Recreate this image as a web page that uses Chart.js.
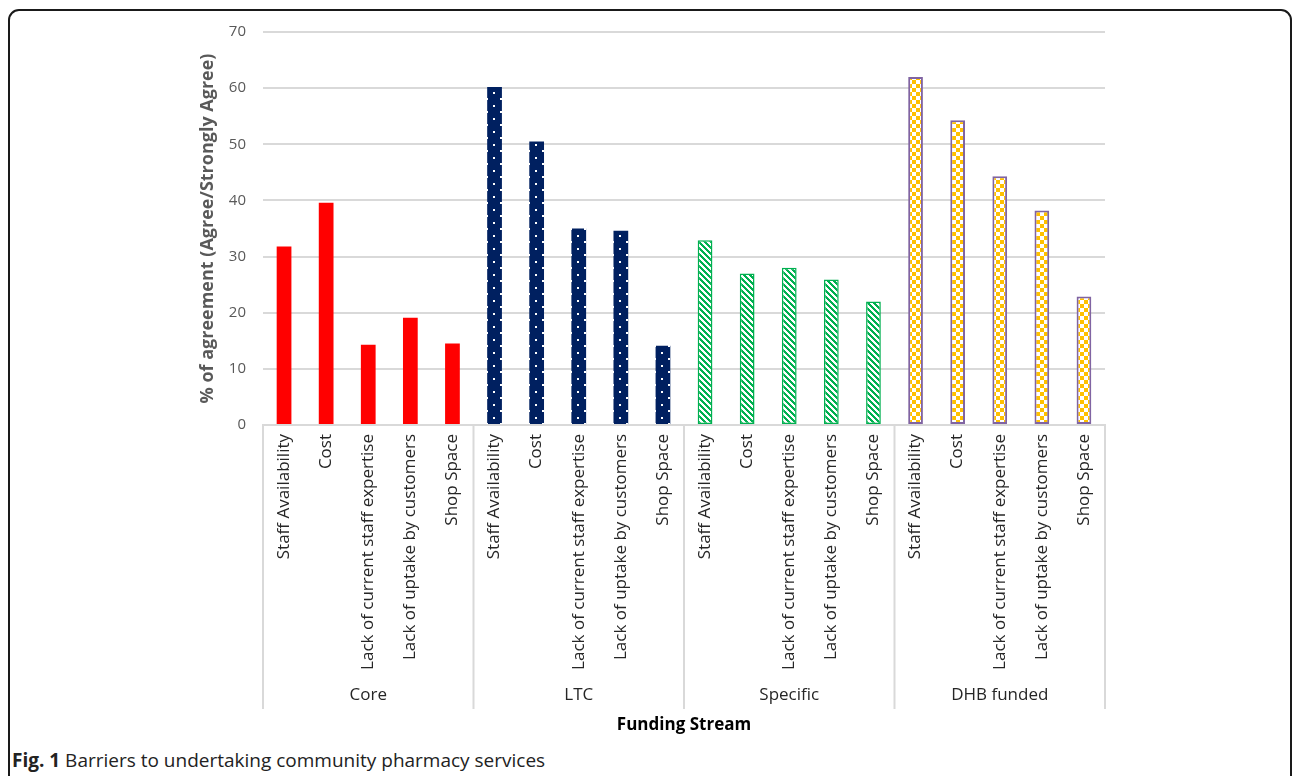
<!DOCTYPE html>
<html>
<head>
<meta charset="utf-8">
<script src="https://cdn.jsdelivr.net/npm/chart.js@4.4.1/dist/chart.umd.min.js"></script>
<style>
  html, body { margin: 0; padding: 0; background: #fff; }
  body { width: 1295px; height: 776px; position: relative; overflow: hidden; }
  #frame {
    position: absolute; left: 8px; top: 9px; width: 1280px; height: 820px;
    border: 2px solid #1a1a1a; border-radius: 11px;
  }
  #chart { position: absolute; left: 0; top: 0; }
  #caption {
    position: absolute; left: 12px; top: 747px;
    font-family: "Open Sans", sans-serif; font-size: 19px; color: #222;
    white-space: nowrap; line-height: 26px;
  }
  #caption b { font-weight: 700; }
</style>
</head>
<body>
<div id="frame"></div>
<canvas id="chart" width="1295" height="740"></canvas>
<div id="caption"><b>Fig. 1</b> Barriers to undertaking community pharmacy services</div>
<script>
// categories and groups
const categories = ["Staff Availability", "Cost", "Lack of current staff expertise", "Lack of uptake by customers", "Shop Space"];
const groups = ["Core", "LTC", "Specific", "DHB funded"];

// % agree / strongly agree, per funding stream
const coreValues = [31.8, 39.6, 14.3, 19.1, 14.5];
const ltcValues = [60.2, 50.5, 35.0, 34.6, 14.1];
const specificValues = [32.9, 27.0, 28.0, 25.9, 22.0];
const dhbValues = [62.0, 54.3, 44.3, 38.2, 22.9];

const yTicks = [0, 10, 20, 30, 40, 50, 60, 70];

function makePattern(w, h, draw) {
    let c = document.createElement("canvas");
    c.width = w;
    c.height = h;
    let g = c.getContext("2d");
    draw(g);
    return c.getContext("2d").createPattern(c, "repeat");
}

const dotsNavy = makePattern(14, 13, function (g) {
    g.fillStyle = "#002060";
    g.fillRect(0, 0, 14, 13);
    g.fillStyle = "#ffffff";
    g.fillRect(3, 1, 2, 2);
    g.fillRect(10, 7, 2, 2);
});

const stripesGreen = makePattern(6, 6, function (g) {
    g.fillStyle = "#ffffff";
    g.fillRect(0, 0, 6, 6);
    g.fillStyle = "#00b050";
    for (let y = 0; y < 6; y++) {
        for (let x = 0; x < 6; x++) {
            if ((x - y + 12) % 6 < 3) g.fillRect(x, y, 1, 1);
        }
    }
});

const checkGold = makePattern(8, 8, function (g) {
    g.fillStyle = "#ffffff";
    g.fillRect(0, 0, 8, 8);
    g.fillStyle = "#ffc000";
    g.fillRect(0, 0, 4, 4);
    g.fillRect(4, 4, 4, 4);
});

const groupFill = ["#ff0000", dotsNavy, stripesGreen, checkGold];
const groupBorder = ["#ff0000", "#002060", "#00b050", "#8064a2"];
const groupBorderWidth = [0, 0, 1.5, 2];

const labels = groups.flatMap(() => categories);
const values = [].concat(coreValues, ltcValues, specificValues, dhbValues);
const fills = groups.flatMap((g, i) => categories.map(() => groupFill[i]));
const borders = groups.flatMap((g, i) => categories.map(() => groupBorder[i]));
const borderWidths = groups.flatMap((g, i) => categories.map(() => groupBorderWidth[i]));

// group separators and group names under the category labels
const groupAxis = {
    id: "groupAxis",
    afterDraw(chart) {
        let x = chart.scales.x;
        let ctx = chart.ctx;
        let top = chart.chartArea.bottom;
        let half = (x.getPixelForValue(1) - x.getPixelForValue(0)) / 2;
        let n = categories.length;
        ctx.save();
        ctx.strokeStyle = "#d9d9d9";
        ctx.lineWidth = 2;
        for (let g = 0; g <= groups.length; g++) {
            let px = g < groups.length ? x.getPixelForValue(g * n) - half : x.getPixelForValue(g * n - 1) + half;
            ctx.beginPath();
            ctx.moveTo(px, top);
            ctx.lineTo(px, top + 284);
            ctx.stroke();
        }
        ctx.fillStyle = "#262626";
        ctx.font = "17px 'Open Sans'";
        ctx.textAlign = "center";
        ctx.textBaseline = "middle";
        groups.forEach(function (name, g) {
            let cx = (x.getPixelForValue(g * n) + x.getPixelForValue(g * n + n - 1)) / 2;
            ctx.fillText(name, cx, top + 270);
        });
        ctx.restore();
    },
};

let ctx = document.getElementById("chart").getContext("2d");
new Chart(ctx, {
    type: "bar",
    data: {
        labels: labels,
        datasets: [
            {
                data: values,
                backgroundColor: fills,
                borderColor: borders,
                borderWidth: borderWidths,
                borderSkipped: false,
                categoryPercentage: 1,
                barPercentage: 0.35,
            },
        ],
    },
    options: {
        responsive: false,
        animation: false,
        layout: { padding: { left: 193, right: 190, top: 32, bottom: 2 } },
        plugins: {
            legend: { display: false },
            tooltip: { enabled: false },
        },
        scales: {
            x: {
                afterFit(scale) {
                    scale.height = 313;
                },
                grid: { display: true, drawOnChartArea: false, drawTicks: false, color: "transparent" },
                border: { display: true, color: "#d9d9d9", width: 2 },
                ticks: {
                    autoSkip: false,
                    minRotation: 90,
                    maxRotation: 90,
                    padding: 9,
                    color: "#262626",
                    font: { family: "Open Sans", size: 17 },
                },
                title: {
                    display: true,
                    text: "Funding Stream",
                    color: "#000000",
                    font: { family: "Open Sans", size: 17, weight: "bold" },
                    padding: { top: 4, bottom: 3 },
                },
            },
            y: {
                min: yTicks[0],
                max: yTicks[yTicks.length - 1],
                afterFit(scale) {
                    scale.width = 70;
                },
                afterBuildTicks(scale) {
                    scale.ticks = yTicks.map((v) => ({ value: v }));
                },
                grid: { color: "#d9d9d9", lineWidth: 2, drawTicks: false },
                border: { display: false },
                ticks: {
                    padding: 17,
                    color: "#595959",
                    font: { family: "Open Sans", size: 15 },
                },
                title: {
                    display: true,
                    text: "% of agreement (Agree/Strongly Agree)",
                    color: "#595959",
                    font: { family: "Open Sans", size: 18, weight: "bold" },
                    padding: 4,
                },
            },
        },
    },
    plugins: [groupAxis],
});
</script>
</body>
</html>
